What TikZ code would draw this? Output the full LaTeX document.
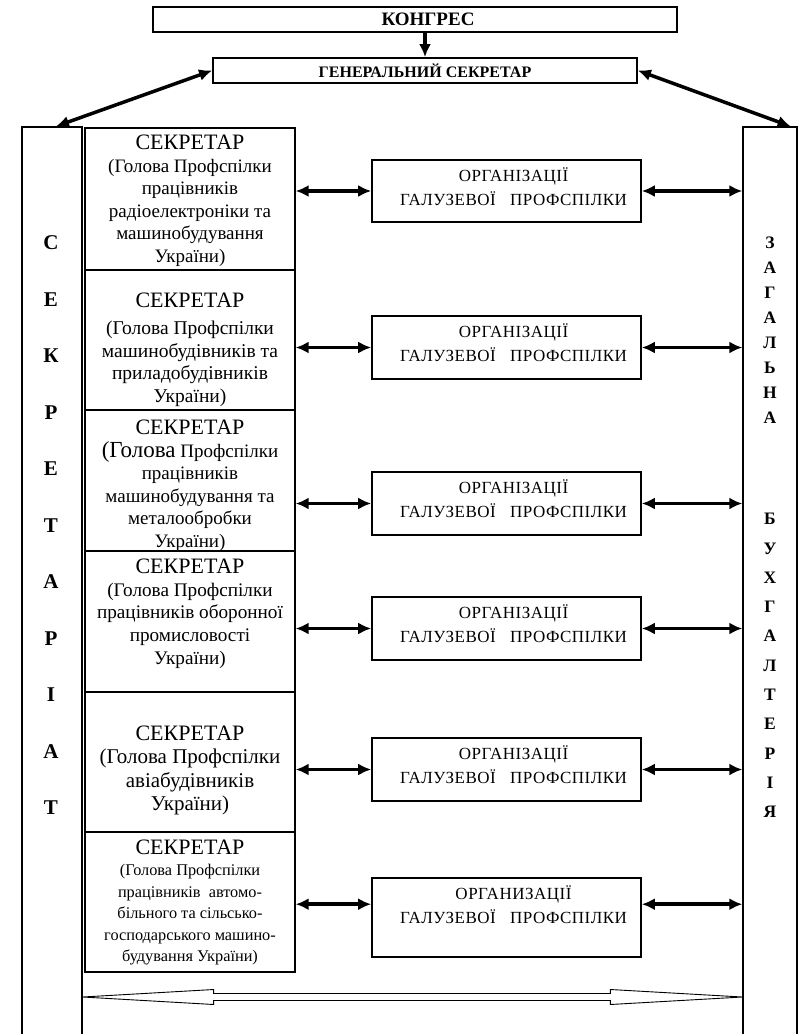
\documentclass[tikz,border=0pt]{standalone}
\usepackage{fontspec}
\setmainfont{Liberation Serif}
\usetikzlibrary{arrows.meta,calc}
\tikzset{
  topbox/.style={draw, line width=1.8pt, inner sep=0pt},
  secbox/.style={draw, line width=1.3pt, minimum width=210pt, inner sep=0pt},
  orgbox/.style={draw, line width=1.6pt, minimum width=269pt, inner sep=0pt},
  colbox/.style={draw, line width=1.3pt, inner sep=0pt},
  link/.style={line width=3.5pt, {Latex[length=13pt,width=12pt]}-{Latex[length=13pt,width=12pt]}},
  downlink/.style={line width=3.5pt, -{Latex[length=13pt,width=12pt]}},
  orgtext/.style={align=center, inner sep=0pt, font=\fontsize{17}{24}\selectfont\addfontfeature{LetterSpace=3}},
  sectext/.style={align=center, inner sep=0pt},
  vletters/.style={align=center, inner sep=0pt},
  hollow/.style={draw, line width=0.9pt, line join=miter}
}
\begin{document}
\begin{tikzpicture}[x=1pt,y=-1pt]
\useasboundingbox (0,0) rectangle (803,1034);
\clip (0,0) rectangle (803,1034);

% top boxes
\node[topbox, minimum width=524pt, minimum height=25pt] (kon) at (415,19.5) {};
\node[font=\bfseries\fontsize{19}{22}\selectfont, inner sep=0pt] (kont) at (428,19.5) {КОНГРЕС};
\node[topbox, minimum width=424pt, minimum height=25pt] (gen) at (425,70.5) {};
\node[font=\bfseries\fontsize{16}{19}\selectfont, inner sep=0pt] (gent) at (425,70.5) {ГЕНЕРАЛЬНИЙ СЕКРЕТАР};

% columns
\node[colbox, minimum width=60pt, minimum height=923pt] (lc) at (52,588.5) {};
\node[colbox, minimum width=54pt, minimum height=923pt] (rc) at (770,588.5) {};

\node[vletters, font=\bfseries\fontsize{21}{56.5}\selectfont] (lct) at (51,525.5)
  {С\\Е\\К\\Р\\Е\\Т\\А\\Р\\І\\А\\Т};
\node[vletters, font=\bfseries\fontsize{17.5}{25}\selectfont] (rct1) at (770,330.5)
  {З\\А\\Г\\А\\Л\\Ь\\Н\\А};
\node[vletters, font=\bfseries\fontsize{17.5}{29.3}\selectfont] (rct2) at (770,665.5)
  {Б\\У\\Х\\Г\\А\\Л\\Т\\Е\\Р\\І\\Я};

% top connectors
\draw[downlink] (kon.south -| gen.north) -- (gen.north);
\draw[link] (gen.west) -- ([xshift=4pt]lc.north);
\draw[link] (gen.east) -- ([xshift=-7pt]rc.north east);

% secretary boxes
\node[secbox, minimum height=142pt] (s1) at (190,199) {};
\node[secbox, minimum height=140pt] (s2) at (190,340) {};
\node[secbox, minimum height=141pt] (s3) at (190,480.5) {};
\node[secbox, minimum height=141pt] (s4) at (190,621.5) {};
\node[secbox, minimum height=140pt] (s5) at (190,762) {};
\node[secbox, minimum height=140pt] (s6) at (190,902) {};

\node[sectext, font=\fontsize{19}{22.5}\selectfont] (s1t) at (190,200.5)
  {{\fontsize{22}{25}\selectfont СЕКРЕТАР}\\(Голова Профспілки\\працівників\\радіоелектроніки та\\машинобудування\\України)};
\node[sectext, font=\fontsize{19.5}{22.7}\selectfont] (s2t) at (190,350)
  {{\fontsize{22}{25}\selectfont СЕКРЕТАР}\\[4pt](Голова Профспілки\\машинобудівників та\\приладобудівників\\України)};
\node[sectext, font=\fontsize{19}{22.5}\selectfont] (s3t) at (190,485.5)
  {{\fontsize{22}{25}\selectfont СЕКРЕТАР}\\{\fontsize{23}{25}\selectfont (Голова} Профспілки\\працівників\\машинобудування та\\металообробки\\України)};
\node[sectext, font=\fontsize{19.2}{22.7}\selectfont] (s4t) at (190,613.5)
  {{\fontsize{22}{25}\selectfont СЕКРЕТАР}\\(Голова Профспілки\\працівників оборонної\\промисловості\\України)};
\node[sectext, font=\fontsize{21}{23.5}\selectfont] (s5t) at (190,770.5)
  {{\fontsize{22}{25}\selectfont СЕКРЕТАР}\\(Голова Профспілки\\авіабудівників\\України)};
\node[sectext, font=\fontsize{16.3}{21.5}\selectfont] (s6t) at (190,902.5)
  {{\fontsize{22}{25}\selectfont СЕКРЕТАР}\\(Голова Профспілки\\працівників\ \ автомо-\\більного та сільсько-\\господарського машино-\\будування України)};

% organisation boxes
\node[orgbox, minimum height=62pt] (o1) at (506.5,191) {};
\node[orgbox, minimum height=63pt] (o2) at (506.5,347.5) {};
\node[orgbox, minimum height=63pt] (o3) at (506.5,503.5) {};
\node[orgbox, minimum height=63pt] (o4) at (506.5,628.5) {};
\node[orgbox, minimum height=63pt] (o5) at (506.5,769.5) {};
\node[orgbox, minimum height=79pt] (o6) at (506.5,917.5) {};

\foreach \i in {1,...,5}{
  \node[orgtext] (o\i t) at ($(o\i.north)+(7,27)$) {ОРГАНІЗАЦІЇ\\ГАЛУЗЕВОЇ\ \ \ ПРОФСПІЛКИ};
}
\node[orgtext] (o6t) at ($(o6.north)+(7,27)$) {ОРГАНИЗАЦІЇ\\ГАЛУЗЕВОЇ\ \ \ ПРОФСПІЛКИ};

% horizontal connectors
\foreach \i in {1,...,5}{
  \draw[link] (s\i.east |- o\i.west) -- (o\i.west);
  \draw[link] (o\i.east) -- (rc.west |- o\i.east);
}
\draw[link] (s6.east |- o6t) -- (o6.west |- o6t);
\draw[link] (o6.east |- o6t) -- (rc.west |- o6t);

% bottom hollow double arrow
\coordinate (bl) at (lc.east |- 0,997);
\coordinate (br) at (rc.west |- 0,997);
\draw[hollow] (bl) -- ($(bl)+(131,-7.5)$) -- ($(bl)+(131,-3.5)$) -- ($(br)+(-132,-3.5)$)
  -- ($(br)+(-132,-7.5)$) -- (br) -- ($(br)+(-132,7.5)$) -- ($(br)+(-132,3.5)$)
  -- ($(bl)+(131,3.5)$) -- ($(bl)+(131,7.5)$) -- cycle;
\end{tikzpicture}
\end{document}
